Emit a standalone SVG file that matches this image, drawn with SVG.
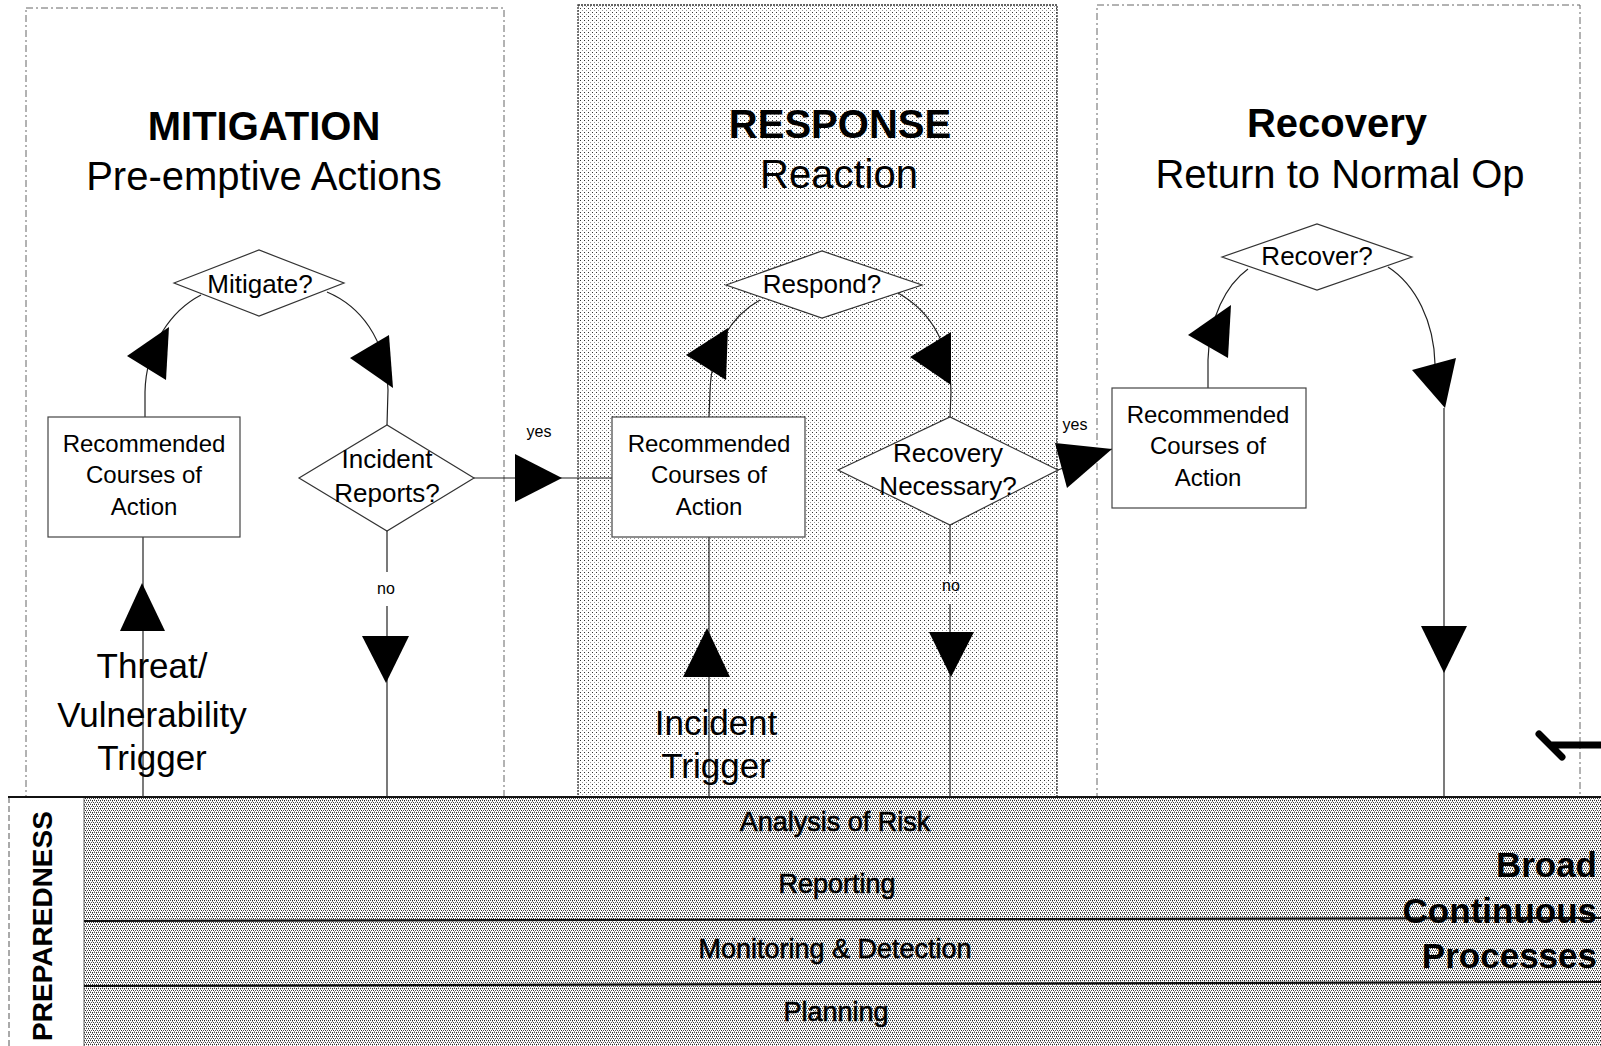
<svg xmlns="http://www.w3.org/2000/svg" width="1601" height="1046" viewBox="0 0 1601 1046">
<defs>
<pattern id="stip" width="4" height="4" patternUnits="userSpaceOnUse"><rect width="4" height="4" fill="#fff"/><rect x="0" y="0" width="1" height="1" fill="#333"/><rect x="2" y="2" width="1" height="1" fill="#999"/></pattern>
<pattern id="dense" width="4" height="4" patternUnits="userSpaceOnUse"><rect width="4" height="4" fill="#fff"/><rect x="0" y="0" width="1" height="1" fill="#222"/><rect x="2" y="0" width="1" height="1" fill="#444"/><rect x="1" y="2" width="1" height="1" fill="#333"/><rect x="3" y="2" width="1" height="1" fill="#555"/><rect x="0" y="1" width="1" height="1" fill="#999"/><rect x="2" y="3" width="1" height="1" fill="#aaa"/></pattern>
<style>
text{font-family:"Liberation Sans",Arial,sans-serif;fill:#000;}
.panel{fill:none;stroke:#666;stroke-width:1;stroke-dasharray:7 3 2 3;}
.panelR{fill:url(#stip);stroke:#333;stroke-width:1.3;stroke-dasharray:2 1;}
.title{font-size:40px;font-weight:bold;text-anchor:middle;}
.sub{font-size:40px;text-anchor:middle;}
.box{fill:#fff;stroke:#444;stroke-width:1.2;}
.dia{fill:#fff;stroke:#333;stroke-width:1.2;}
.btxt{font-size:24px;text-anchor:middle;}
.dtxt{font-size:26px;text-anchor:middle;}
.trig{font-size:35px;text-anchor:middle;}
.lbl{font-size:16px;text-anchor:middle;}
.conn{fill:none;stroke:#222;stroke-width:1.2;}
.head{fill:#000;}
.band{font-size:27px;text-anchor:middle;stroke:#000;stroke-width:0.6;}
.bline{stroke:#111;stroke-width:2.2;}
.broad{font-size:35px;font-weight:bold;text-anchor:end;}
</style>
</defs>
<rect width="1601" height="1046" fill="#fff"/>

<g id="panel-mitigation">
<rect class="panel" x="26" y="8" width="478" height="789"/>
<text class="title" x="264" y="140">MITIGATION</text>
<text class="sub" x="264" y="190">Pre-emptive Actions</text>
</g>
<g id="panel-response">
<rect class="panelR" x="578" y="5" width="479" height="792"/>
<text class="title" x="840" y="138">RESPONSE</text>
<text class="sub" x="839" y="188">Reaction</text>
</g>
<g id="panel-recovery">
<rect class="panel" x="1097" y="5" width="483" height="792"/>
<text class="title" x="1337" y="137">Recovery</text>
<text class="sub" x="1340" y="188">Return to Normal Op</text>
</g>

<g id="preparedness">
<rect x="84" y="797" width="1517" height="249" fill="url(#dense)"/>
<line x1="9" y1="797" x2="9" y2="1046" stroke="#555" stroke-width="1" stroke-dasharray="6 3"/>
<line x1="84" y1="797" x2="84" y2="1046" stroke="#666" stroke-width="1"/>
<line class="bline" x1="8" y1="797" x2="1601" y2="797"/>
<line class="bline" x1="84" y1="921" x2="1601" y2="918"/>
<line class="bline" x1="84" y1="986" x2="1601" y2="982"/>
<text x="52" y="926" transform="rotate(-90 52 926)" style="font-size:28px;font-weight:bold;text-anchor:middle;">PREPAREDNESS</text>
<text class="band" x="835" y="831">Analysis of Risk</text>
<text class="band" x="837" y="893">Reporting</text>
<text class="band" x="835" y="958">Monitoring &amp; Detection</text>
<text class="band" x="836" y="1021">Planning</text>
<text class="broad" x="1597" y="877">Broad</text>
<text class="broad" x="1597" y="923">Continuous</text>
<text class="broad" x="1597" y="968">Processes</text>
</g>

<g id="connectors">
<path class="conn" d="M201,295 C172,310 146,345 145,392 L145,417"/>
<path class="conn" d="M327,292 C360,306 386,338 388,390 L387,425"/>
<path class="conn" d="M143,537 L143,797"/>
<path class="conn" d="M387,531 L387,572 M387,606 L387,797"/>
<path class="conn" d="M474,478 L612,478"/>
<path class="conn" d="M760,300 C731,316 711,348 710,392 L709,417"/>
<path class="conn" d="M898,293 C930,311 950,342 951,392 L950,417"/>
<path class="conn" d="M709,537 L709,797"/>
<path class="conn" d="M950,525 L950,574 M950,604 L950,797"/>
<path class="conn" d="M1058,470 L1112,449"/>
<path class="conn" d="M1248,269 C1226,285 1209,318 1208,360 L1208,388"/>
<path class="conn" d="M1388,267 C1416,285 1434,322 1435,364"/>
<path class="conn" d="M1444,408 L1444,797"/>
<polygon class="head" points="127,356 169,327 166,380"/>
<polygon class="head" points="350,358 389,335 393,388"/>
<polygon class="head" points="142,583 120,631 165,631"/>
<polygon class="head" points="362,636 409,636 386,683"/>
<polygon class="head" points="515,454 515,502 562,478"/>
<polygon class="head" points="686,355 728,328 726,380"/>
<polygon class="head" points="910,357 951,332 951,385"/>
<polygon class="head" points="707,628 683,677 730,677"/>
<polygon class="head" points="929,632 974,632 951,677"/>
<polygon class="head" points="1055,443 1067,488 1112,449"/>
<polygon class="head" points="1188,335 1231,305 1228,358"/>
<polygon class="head" points="1445,408 1412,370 1456,358"/>
<polygon class="head" points="1421,626 1467,626 1444,673"/>
<text class="lbl" x="386" y="594">no</text>
<text class="lbl" x="539" y="437">yes</text>
<text class="lbl" x="951" y="591">no</text>
<text class="lbl" x="1075" y="430">yes</text>
</g>

<g id="mitigate-decision">
<polygon class="dia" points="174,283 259,250 344,283 259,316"/>
<text class="dtxt" x="260" y="293">Mitigate?</text>
</g>
<g id="mitigation-actions">
<rect class="box" x="48" y="417" width="192" height="120"/>
<text class="btxt" x="144" y="452">Recommended</text>
<text class="btxt" x="144" y="483">Courses of</text>
<text class="btxt" x="144" y="515">Action</text>
</g>
<g id="incident-reports">
<polygon class="dia" points="299,478 387,425 474,478 387,531"/>
<text class="dtxt" x="387" y="468">Incident</text>
<text class="dtxt" x="387" y="502">Reports?</text>
</g>
<g id="threat-trigger">
<text class="trig" x="152" y="678">Threat/</text>
<text class="trig" x="152" y="727">Vulnerability</text>
<text class="trig" x="152" y="770">Trigger</text>
</g>

<g id="respond-decision">
<polygon class="dia" points="726,285 822,251 922,285 822,318"/>
<text class="dtxt" x="822" y="293">Respond?</text>
</g>
<g id="response-actions">
<rect class="box" x="612" y="417" width="193" height="120"/>
<text class="btxt" x="709" y="452">Recommended</text>
<text class="btxt" x="709" y="483">Courses of</text>
<text class="btxt" x="709" y="515">Action</text>
</g>
<g id="recovery-necessary">
<polygon class="dia" points="838,470 950,417 1058,470 950,525"/>
<text class="dtxt" x="948" y="462">Recovery</text>
<text class="dtxt" x="948" y="495">Necessary?</text>
</g>
<g id="incident-trigger">
<text class="trig" x="716" y="735">Incident</text>
<text class="trig" x="716" y="778">Trigger</text>
</g>

<g id="recover-decision">
<polygon class="dia" points="1222,257 1317,224 1412,257 1317,290"/>
<text class="dtxt" x="1317" y="265">Recover?</text>
</g>
<g id="recovery-actions">
<rect class="box" x="1112" y="388" width="194" height="120"/>
<text class="btxt" x="1208" y="423">Recommended</text>
<text class="btxt" x="1208" y="454">Courses of</text>
<text class="btxt" x="1208" y="486">Action</text>
</g>

<path d="M1539,734 L1562,757 M1551,745 L1601,745" fill="none" stroke="#000" stroke-width="7" stroke-linecap="round"/>
</svg>
